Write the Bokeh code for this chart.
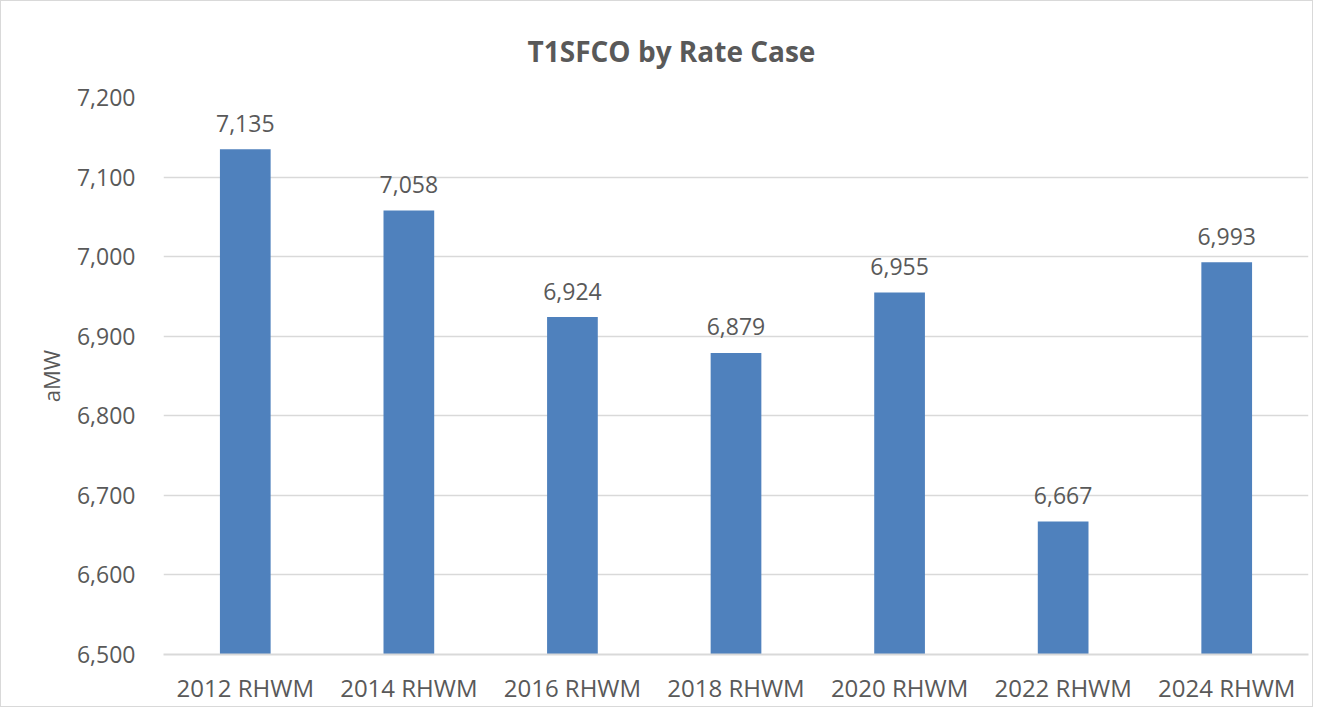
from bokeh.plotting import figure
from bokeh.models import ColumnDataSource, LabelSet, FixedTicker, NumeralTickFormatter, Range1d, Title
from bokeh.core.properties import value
from bokeh.embed import file_html
from bokeh.resources import INLINE

categories = ["2012 RHWM", "2014 RHWM", "2016 RHWM", "2018 RHWM", "2020 RHWM", "2022 RHWM", "2024 RHWM"]
values = [7135, 7058, 6924, 6879, 6955, 6667, 6993]
labels = ["7,135", "7,058", "6,924", "6,879", "6,955", "6,667", "6,993"]
y_ticks = [6500, 6600, 6700, 6800, 6900, 7000, 7100, 7200]

FONT = "Open Sans"
TXT = "#595959"
GRID = "#D9D9D9"
BAR = "#4F81BD"

src = ColumnDataSource(dict(cat=categories, val=values, lab=labels))

title = Title(text="T1SFCO by Rate Case", align="left", offset=364, standoff=56,
              text_font=FONT, text_font_size="28px", text_font_style="bold", text_color=TXT)

p = figure(x_range=categories, y_range=Range1d(6500, 7200), width=1313, height=707,
           output_backend="svg", toolbar_location=None, title=title,
           min_border_left=162, min_border_right=6, min_border_top=95, min_border_bottom=54)
p.vbar(x="cat", top="val", bottom=6500, width=0.31, source=src, fill_color=BAR, line_color=None)

p.add_layout(LabelSet(x="cat", y="val", text="lab", source=src, y_offset=26,
                      text_align="center", text_baseline="middle",
                      text_font=value(FONT), text_font_size=value("23px"), text_color=TXT))

p.yaxis.ticker = FixedTicker(ticks=y_ticks)
p.yaxis.formatter = NumeralTickFormatter(format="0,0")
p.yaxis.axis_line_color = None
p.yaxis.major_tick_line_color = None
p.yaxis.minor_tick_line_color = None
p.yaxis.major_label_standoff = 22
p.yaxis.major_label_text_font = FONT
p.yaxis.major_label_text_font_size = "23px"
p.yaxis.major_label_text_color = TXT
p.yaxis.axis_label = "aMW"
p.yaxis.axis_label_text_font = FONT
p.yaxis.axis_label_text_font_size = "22px"
p.yaxis.axis_label_text_font_style = "normal"
p.yaxis.axis_label_text_color = TXT
p.yaxis.axis_label_standoff = 8

p.xaxis.axis_line_color = GRID
p.xaxis.axis_line_width = 2
p.xaxis.major_tick_line_color = None
p.xaxis.minor_tick_line_color = None
p.xaxis.major_label_standoff = 10
p.xaxis.major_label_text_font = FONT
p.xaxis.major_label_text_font_size = "24px"
p.xaxis.major_label_text_color = TXT

p.xgrid.grid_line_color = None
p.ygrid.grid_line_color = GRID
p.ygrid.grid_line_width = 1.5
p.outline_line_color = None
p.border_fill_color = "white"
p.styles = {"border": "1px solid #D9D9D9", "box-sizing": "border-box"}

open("out.html", "w").write(file_html(p, INLINE))
